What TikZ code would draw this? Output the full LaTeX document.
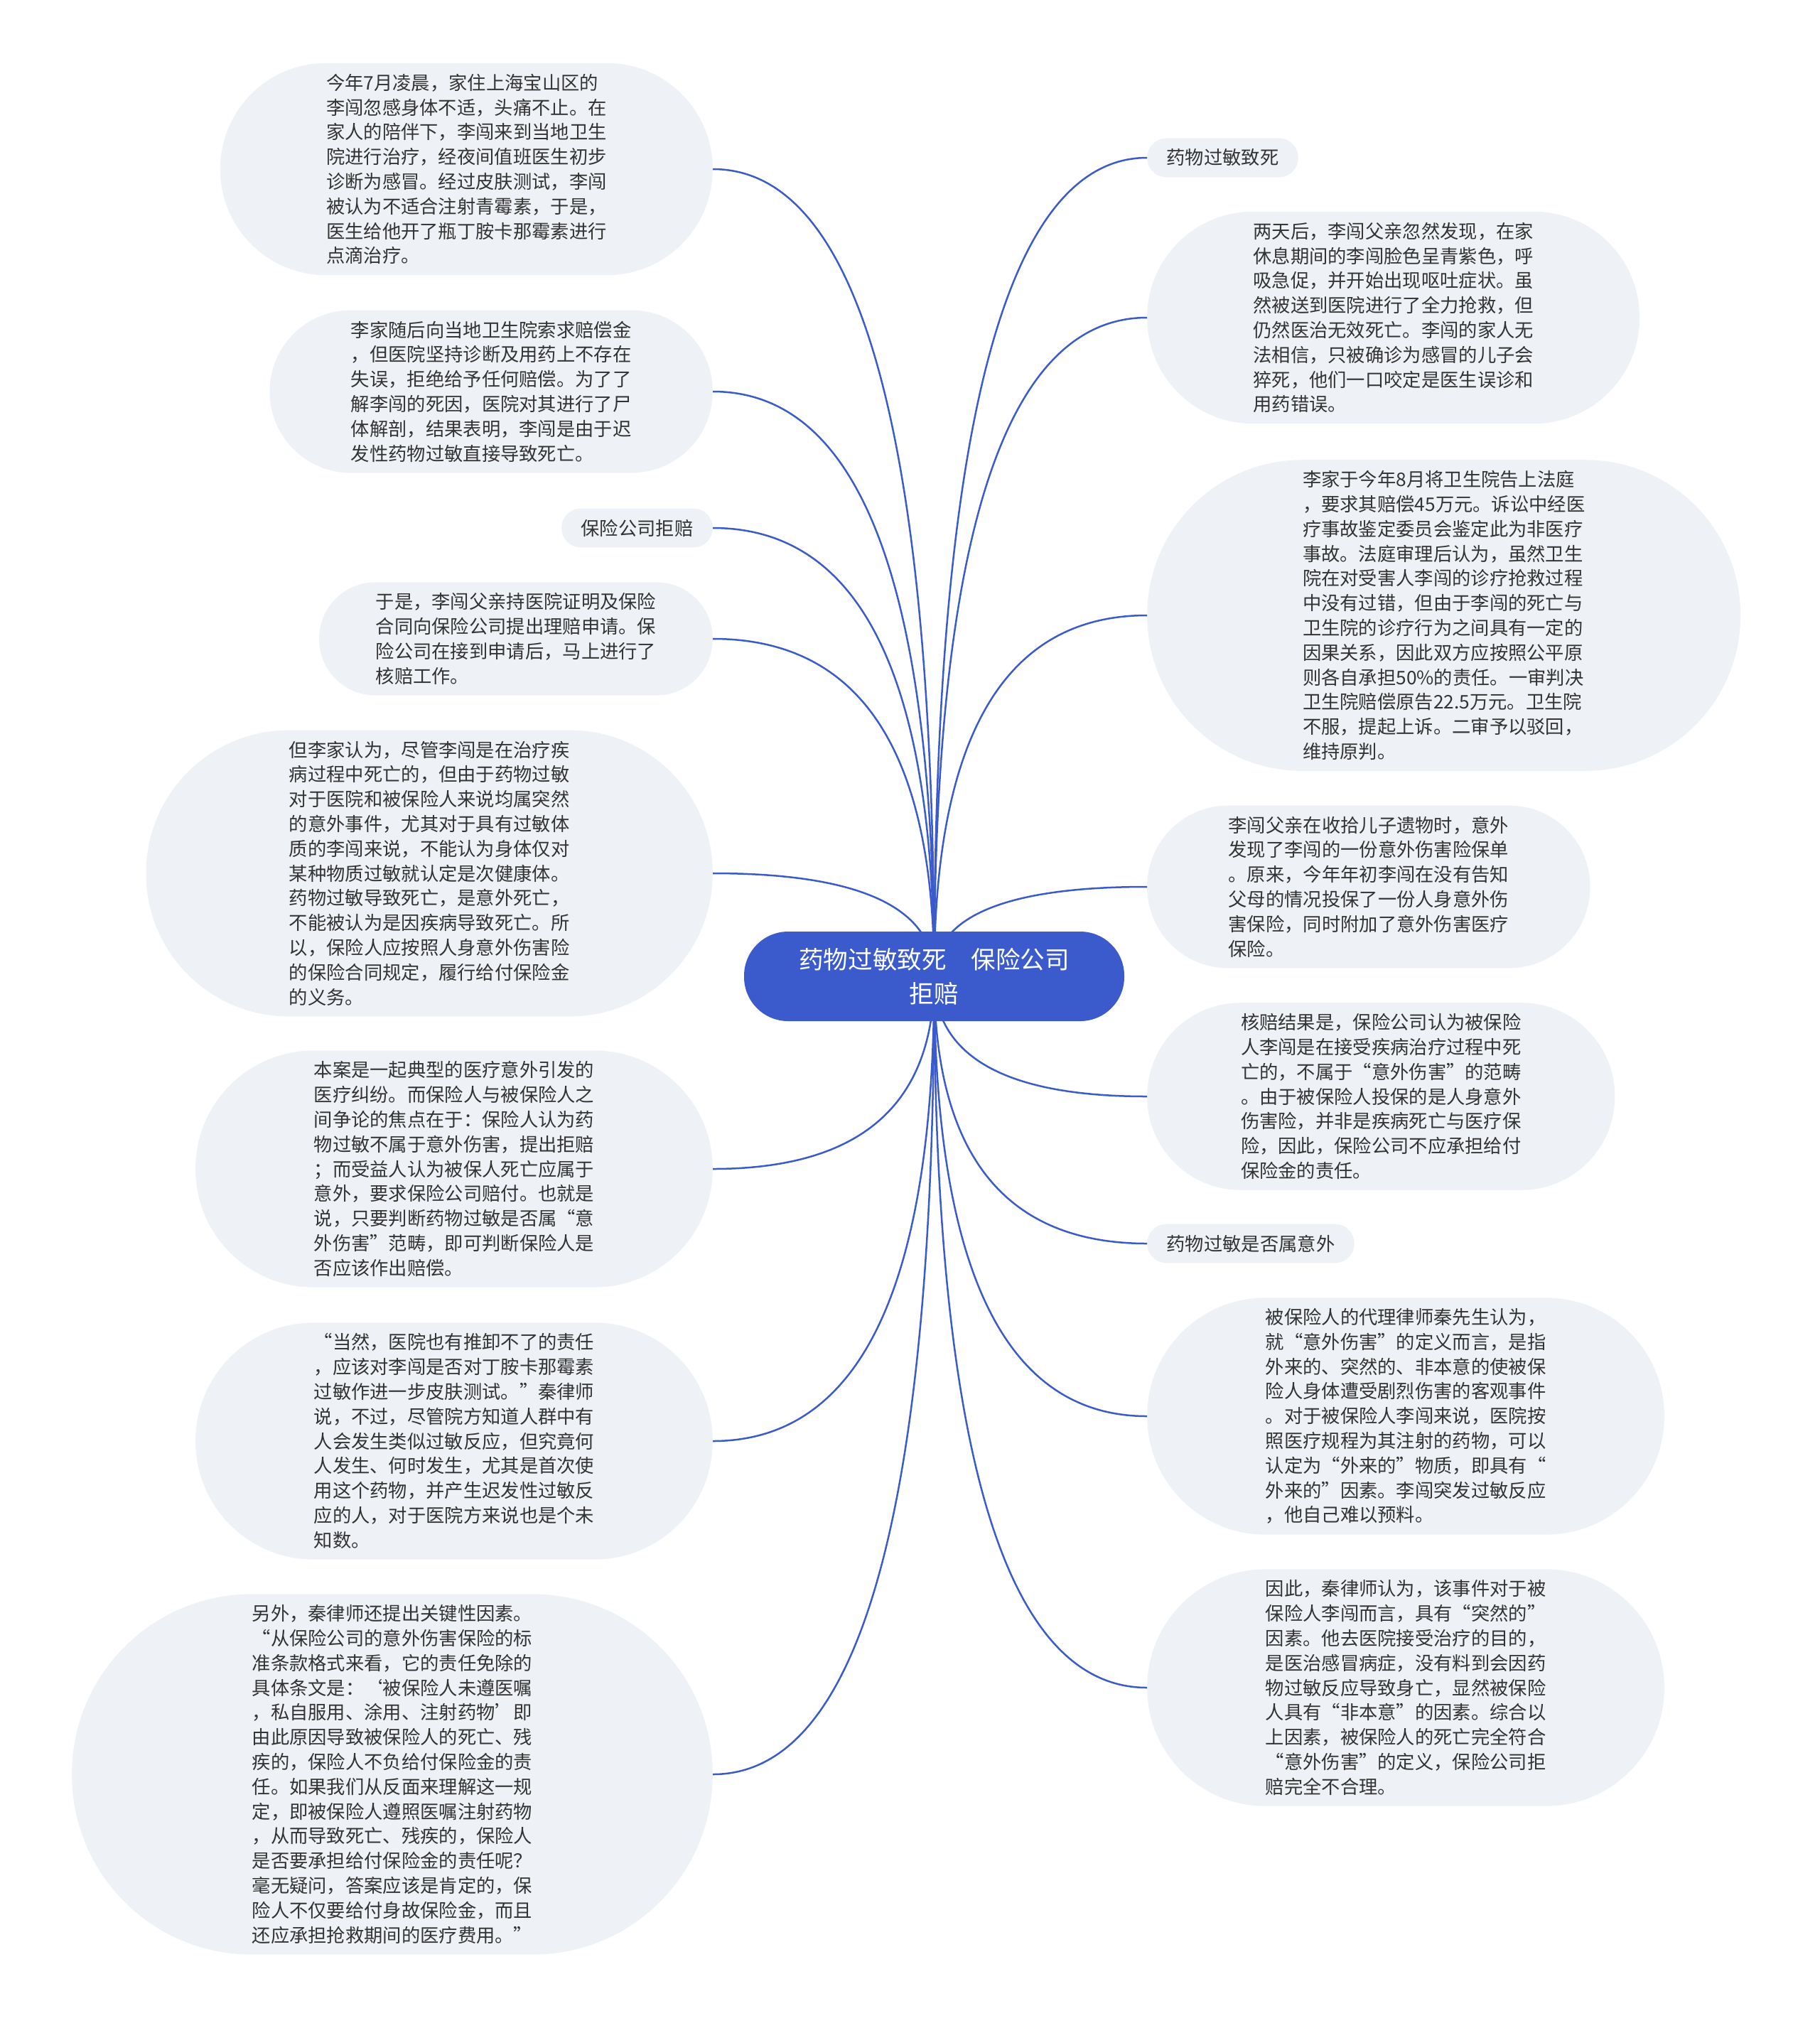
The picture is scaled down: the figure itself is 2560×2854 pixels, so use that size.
\documentclass[tikz,border=0pt]{standalone}
\usepackage{fontspec}
\setmainfont{Noto Sans CJK SC}
\usetikzlibrary{calc}
\definecolor{hubblue}{HTML}{3B5BCC}
\definecolor{leafgray}{HTML}{EEF1F5}
\definecolor{leaftext}{HTML}{333333}

\begin{document}
\begin{tikzpicture}[x=1pt, y=-1pt,
  leaf/.style={rectangle, fill=leafgray, text=leaftext, inner ysep=0pt,
    inner xsep=#1*17.4pt+10pt, minimum height=#1*34.8pt+20pt, rounded corners=#1*17.4pt+9.5pt,
    align=left, font=\fontsize{26.3}{34.8}\selectfont},
  hub/.style={rectangle, rounded corners=62pt, fill=hubblue, text=white, minimum width=535pt,
    minimum height=126pt, align=center, font=\fontsize{34.6}{48}\selectfont},
  branch/.style={draw=hubblue, line width=2.5pt,
    to path={.. controls ($(\tikztostart)!0.667!(\tikztostart|-\tikztotarget)$)
      and ($(\tikztotarget)!0.667!(\tikztostart|-\tikztotarget)$) .. (\tikztotarget)}}]
  \useasboundingbox (0,0) rectangle (2560,2854);
  \coordinate (O) at (1314.5,1374);

  % left side
  \node[leaf=8, anchor=east] (B) at (1003,238) {今年7月凌晨，家住上海宝山区的\\
    李闯忽感身体不适，头痛不止。在\\
    家人的陪伴下，李闯来到当地卫生\\
    院进行治疗，经夜间值班医生初步\\
    诊断为感冒。经过皮肤测试，李闯\\
    被认为不适合注射青霉素，于是，\\
    医生给他开了瓶丁胺卡那霉素进行\\
    点滴治疗。};
  \node[leaf=6, anchor=east] (C) at (1003,551) {李家随后向当地卫生院索求赔偿金\\
    ，但医院坚持诊断及用药上不存在\\
    失误，拒绝给予任何赔偿。为了了\\
    解李闯的死因，医院对其进行了尸\\
    体解剖，结果表明，李闯是由于迟\\
    发性药物过敏直接导致死亡。};
  \node[leaf=1, anchor=east] (D) at (1003,743) {保险公司拒赔};
  \node[leaf=4, anchor=east] (E) at (1003,899) {于是，李闯父亲持医院证明及保险\\
    合同向保险公司提出理赔申请。保\\
    险公司在接到申请后，马上进行了\\
    核赔工作。};
  \node[leaf=11, anchor=east] (F) at (1003,1229) {但李家认为，尽管李闯是在治疗疾\\
    病过程中死亡的，但由于药物过敏\\
    对于医院和被保险人来说均属突然\\
    的意外事件，尤其对于具有过敏体\\
    质的李闯来说，不能认为身体仅对\\
    某种物质过敏就认定是次健康体。\\
    药物过敏导致死亡，是意外死亡，\\
    不能被认为是因疾病导致死亡。所\\
    以，保险人应按照人身意外伤害险\\
    的保险合同规定，履行给付保险金\\
    的义务。};
  \node[leaf=9, anchor=east] (G) at (1003,1645) {本案是一起典型的医疗意外引发的\\
    医疗纠纷。而保险人与被保险人之\\
    间争论的焦点在于：保险人认为药\\
    物过敏不属于意外伤害，提出拒赔\\
    ；而受益人认为被保人死亡应属于\\
    意外，要求保险公司赔付。也就是\\
    说，只要判断药物过敏是否属“意\\
    外伤害”范畴，即可判断保险人是\\
    否应该作出赔偿。};
  \node[leaf=9, anchor=east] (H) at (1003,2028) {“当然，医院也有推卸不了的责任\\
    ，应该对李闯是否对丁胺卡那霉素\\
    过敏作进一步皮肤测试。”秦律师\\
    说，不过，尽管院方知道人群中有\\
    人会发生类似过敏反应，但究竟何\\
    人发生、何时发生，尤其是首次使\\
    用这个药物，并产生迟发性过敏反\\
    应的人，对于医院方来说也是个未\\
    知数。};
  \node[leaf=14, anchor=east] (I) at (1003,2497) {另外，秦律师还提出关键性因素。\\
    “从保险公司的意外伤害保险的标\\
    准条款格式来看，它的责任免除的\\
    具体条文是：‘被保险人未遵医嘱\\
    ，私自服用、涂用、注射药物’即\\
    由此原因导致被保险人的死亡、残\\
    疾的，保险人不负给付保险金的责\\
    任。如果我们从反面来理解这一规\\
    定，即被保险人遵照医嘱注射药物\\
    ，从而导致死亡、残疾的，保险人\\
    是否要承担给付保险金的责任呢？\\
    毫无疑问，答案应该是肯定的，保\\
    险人不仅要给付身故保险金，而且\\
    还应承担抢救期间的医疗费用。”};

  % right side
  \node[leaf=1, anchor=west] (J) at (1614,222) {药物过敏致死};
  \node[leaf=8, anchor=west] (K) at (1614,447) {两天后，李闯父亲忽然发现，在家\\
    休息期间的李闯脸色呈青紫色，呼\\
    吸急促，并开始出现呕吐症状。虽\\
    然被送到医院进行了全力抢救，但\\
    仍然医治无效死亡。李闯的家人无\\
    法相信，只被确诊为感冒的儿子会\\
    猝死，他们一口咬定是医生误诊和\\
    用药错误。};
  \node[leaf=12, anchor=west] (L) at (1614,866) {李家于今年8月将卫生院告上法庭\\
    ，要求其赔偿45万元。诉讼中经医\\
    疗事故鉴定委员会鉴定此为非医疗\\
    事故。法庭审理后认为，虽然卫生\\
    院在对受害人李闯的诊疗抢救过程\\
    中没有过错，但由于李闯的死亡与\\
    卫生院的诊疗行为之间具有一定的\\
    因果关系，因此双方应按照公平原\\
    则各自承担50\%的责任。一审判决\\
    卫生院赔偿原告22.5万元。卫生院\\
    不服，提起上诉。二审予以驳回，\\
    维持原判。};
  \node[leaf=6, anchor=west] (M) at (1614,1248) {李闯父亲在收拾儿子遗物时，意外\\
    发现了李闯的一份意外伤害险保单\\
    。原来，今年年初李闯在没有告知\\
    父母的情况投保了一份人身意外伤\\
    害保险，同时附加了意外伤害医疗\\
    保险。};
  \node[leaf=7, anchor=west] (N) at (1614,1543) {核赔结果是，保险公司认为被保险\\
    人李闯是在接受疾病治疗过程中死\\
    亡的，不属于“意外伤害”的范畴\\
    。由于被保险人投保的是人身意外\\
    伤害险，并非是疾病死亡与医疗保\\
    险，因此，保险公司不应承担给付\\
    保险金的责任。};
  \node[leaf=1, anchor=west] (P) at (1614,1750) {药物过敏是否属意外};
  \node[leaf=9, anchor=west] (Q) at (1614,1993) {被保险人的代理律师秦先生认为，\\
    就“意外伤害”的定义而言，是指\\
    外来的、突然的、非本意的使被保\\
    险人身体遭受剧烈伤害的客观事件\\
    。对于被保险人李闯来说，医院按\\
    照医疗规程为其注射的药物，可以\\
    认定为“外来的”物质，即具有“\\
    外来的”因素。李闯突发过敏反应\\
    ，他自己难以预料。};
  \node[leaf=9, anchor=west] (R) at (1614,2375) {因此，秦律师认为，该事件对于被\\
    保险人李闯而言，具有“突然的”\\
    因素。他去医院接受治疗的目的，\\
    是医治感冒病症，没有料到会因药\\
    物过敏反应导致身亡，显然被保险\\
    人具有“非本意”的因素。综合以\\
    上因素，被保险人的死亡完全符合\\
    “意外伤害”的定义，保险公司拒\\
    赔完全不合理。};

  % branches
  \draw[branch] (O) to (B.east);
  \draw[branch] (O) to (C.east);
  \draw[branch] (O) to (D.east);
  \draw[branch] (O) to (E.east);
  \draw[branch] (O) to (F.east);
  \draw[branch] (O) to (G.east);
  \draw[branch] (O) to (H.east);
  \draw[branch] (O) to (I.east);
  \draw[branch] (O) to (J.west);
  \draw[branch] (O) to (K.west);
  \draw[branch] (O) to (L.west);
  \draw[branch] (O) to (M.west);
  \draw[branch] (O) to (N.west);
  \draw[branch] (O) to (P.west);
  \draw[branch] (O) to (Q.west);
  \draw[branch] (O) to (R.west);

  \node[hub] (A) at (O) {药物过敏致死　保险公司\\拒赔};
\end{tikzpicture}
\end{document}
